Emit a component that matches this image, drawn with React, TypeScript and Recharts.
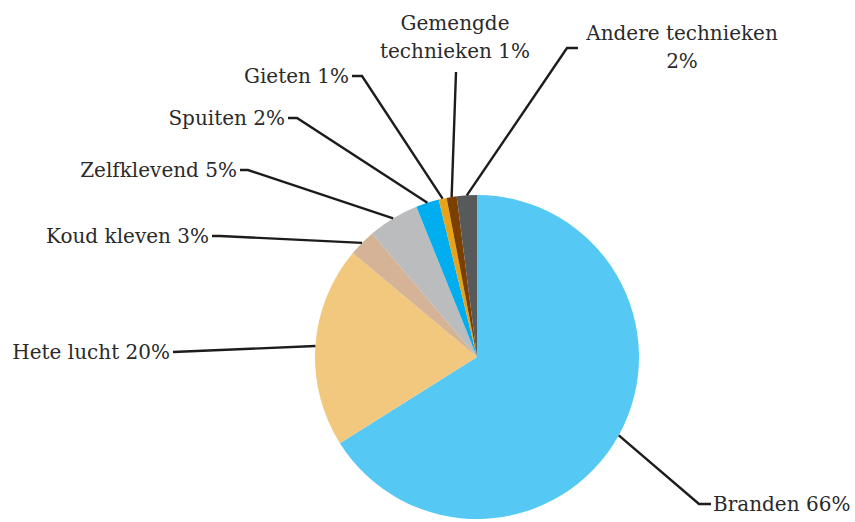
import { Pie, PieChart, Cell } from "recharts";

const categories = [
    "Branden",
    "Hete lucht",
    "Koud kleven",
    "Zelfklevend",
    "Spuiten",
    "Gieten",
    "Gemengde technieken",
    "Andere technieken",
];
const shares = [66, 20, 2.7, 5.1, 2.3, 0.8, 1.0, 2.0];
const labelTexts = [
    ["Branden 66%"],
    ["Hete lucht 20%"],
    ["Koud kleven 3%"],
    ["Zelfklevend 5%"],
    ["Spuiten 2%"],
    ["Gieten 1%"],
    ["Gemengde", "technieken 1%"],
    ["Andere technieken", "2%"],
];
const colors = ["#55C9F4", "#F1C87E", "#D4B396", "#BBBCBE", "#00AEEF", "#E8A317", "#7B3F00", "#58595B"];

const data = categories.map((name, i) => ({ name, value: shares[i] }));

// leader line elbows / label anchors (page px)
const layout = [
    { ex: 699, ey: 504, hx: 711, tx: 713, ty: 504, anchor: "start" },
    { ex: 173, ey: 352, hx: 173, tx: 170, ty: 352, anchor: "end" },
    { ex: 220, ey: 236, hx: 212, tx: 209, ty: 236, anchor: "end" },
    { ex: 248, ey: 170, hx: 240, tx: 237, ty: 170, anchor: "end" },
    { ex: 297, ey: 118, hx: 288, tx: 285, ty: 118, anchor: "end" },
    { ex: 362, ey: 76, hx: 352, tx: 349, ty: 76, anchor: "end" },
    { ex: 456, ey: 72, hx: 456, tx: 455, ty: 23, anchor: "middle" },
    { ex: 567, ey: 48, hx: 578, tx: 682, ty: 33, anchor: "middle" },
];

const RAD = Math.PI / 180;

const renderLabel = (props: any) => {
    const { cx, cy, midAngle, outerRadius, index } = props;
    const sx = cx + Math.cos(-midAngle * RAD) * outerRadius;
    const sy = cy + Math.sin(-midAngle * RAD) * outerRadius;
    const l = layout[index];
    const lines = labelTexts[index];
    return (
        <g key={`lbl-${index}`}>
            <polyline
                points={`${sx},${sy} ${l.ex},${l.ey} ${l.hx},${l.ey}`}
                fill="none"
                stroke="#1E1B1C"
                strokeWidth={2.4}
            />
            {lines.map((t, j) => (
                <text
                    key={j}
                    x={l.tx}
                    y={l.ty + j * 28}
                    textAnchor={l.anchor as any}
                    dominantBaseline="central"
                    fill="#2A2A2A"
                    fontSize={20}
                    fontFamily="DejaVu Serif"
                >
                    {t}
                </text>
            ))}
        </g>
    );
};

export default function App() {
    return (
        <div style={{ position: "absolute", left: 0, top: 0 }}>
            <PieChart width={855} height={522} margin={{ top: 0, right: 0, bottom: 0, left: 0 }}>
                <Pie
                    data={data}
                    dataKey="value"
                    nameKey="name"
                    cx={477}
                    cy={357}
                    outerRadius={162}
                    startAngle={90}
                    endAngle={-270}
                    stroke="none"
                    label={renderLabel}
                    labelLine={false}
                    isAnimationActive={false}
                >
                    {data.map((d, i) => (
                        <Cell key={d.name} fill={colors[i]} />
                    ))}
                </Pie>
            </PieChart>
        </div>
    );
}
